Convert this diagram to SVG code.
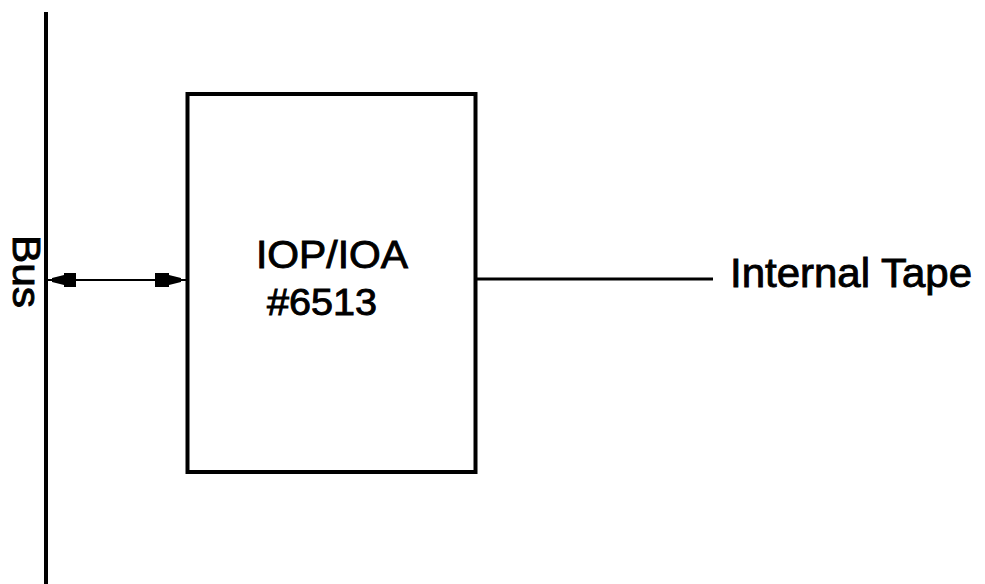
<svg xmlns="http://www.w3.org/2000/svg" width="985" height="584" viewBox="0 0 985 584">
<style>
.t{font-family:"Liberation Sans",Arial,sans-serif;fill:#000;stroke:#000;stroke-width:0.9}
.thick{stroke:#000;stroke-width:4;fill:none}
.thin{stroke:#000;stroke-width:2;fill:none}
</style>
<rect width="985" height="584" fill="#fff"/>
<g id="bus">
<line class="thick" x1="46" y1="12" x2="46" y2="584"/>
<text class="t" font-size="38" transform="translate(13,235) rotate(90)" textLength="73" lengthAdjust="spacingAndGlyphs">Bus</text>
</g>
<g id="iop">
<rect class="thick" x="187.5" y="94" width="288" height="378"/>
<text class="t" font-size="38" x="256" y="268" textLength="152" lengthAdjust="spacingAndGlyphs">IOP/IOA</text>
<text class="t" font-size="36" x="267" y="315" textLength="110" lengthAdjust="spacingAndGlyphs">#6513</text>
</g>
<g id="tape">
<text class="t" font-size="41" x="730" y="287" textLength="242" lengthAdjust="spacingAndGlyphs">Internal Tape</text>
</g>
<g id="connectors">
<line class="thin" x1="48" y1="280" x2="186" y2="280"/>
<polygon points="52,278 64,275 64,273 76,273 76,287 64,287 64,285 52,282"/>
<polygon points="181,278 169,275 169,273 155,273 155,287 169,287 169,285 181,282"/>
<line stroke="#000" stroke-width="3" x1="477" y1="279" x2="713" y2="279"/>
</g>
</svg>
